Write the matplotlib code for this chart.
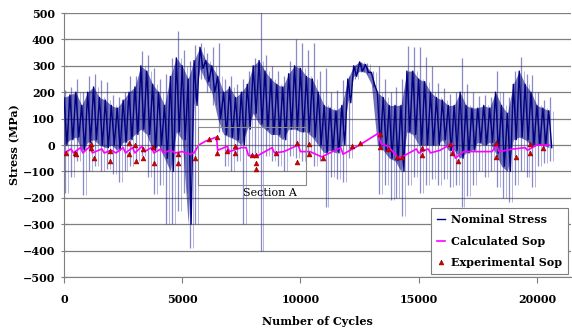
import numpy as np
import matplotlib.pyplot as plt
from matplotlib.patches import Rectangle

# ---- Nominal stress in 250-cycle bins ----
cycles = np.arange(0, 20501, 250)
peak_hi = [210, 220, 250, 200, 260, 270, 245, 240, 190, 180, 200, 260, 260, 355, 340, 290,
           250, 270, 330, 430, 360, 320, 380, 385, 350, 370, 385, 250, 260, 230, 250, 280,
           330, 510, 340, 300, 280, 260, 320, 400, 385, 360, 385, 280, 290, 200, 210, 245,
           260, 300, 315, 310, 280, 300, 250, 200, 220, 250, 375, 370, 370, 335, 300, 235,
           215, 195, 200, 330, 230, 200, 185, 190, 180, 280, 200, 180, 280, 335, 270, 265,
           200, 170, 180]
peak_lo = [-180, -120, -60, -190, -100, -80, -100, -90, -110, -140, -100, -80, -60, -40, -120, -185,
           -150, -300, -300, -250, -180, -390, -300, 250, 200, 150, 50, -80, -100, -60, -300, -40,
           -30, -400, -40, -60, -80, -100, -40, -50, -60, -40, -80, -60, -235, -120, -130, -140,
           -50, 250, 275, 270, 220, -185, -150, -210, -200, -270, -150, -120, -180, -150, -130, -150,
           -130, -160, -150, -235, -195, -150, -100, -120, -100, -160, -200, -215, -150, -100, -120, -160,
           -80, -70, -60]
core_hi = [180, 190, 200, 150, 200, 220, 180, 170, 150, 140, 170, 200, 220, 300, 280, 230,
           200, 150, 260, 330, 300, 250, 320, 370, 320, 300, 260, 200, 220, 180, 200, 230,
           300, 320, 280, 250, 230, 220, 270, 300, 290, 260, 250, 200, 150, 140, 130, 150,
           250, 300, 315, 305, 275, 200, 180, 150, 150, 150, 280, 280, 250, 240, 200, 180,
           170, 150, 150, 200, 150, 140, 140, 150, 140, 200, 150, 120, 230, 280, 230, 200,
           150, 140, 130]
core_lo = [0, 20, 30, -20, 10, 20, 0, -10, 0, -20, 10, 20, 40, 60, 40, -20,
           0, -50, -100, 50, 20, -300, 150, 290, 240, 200, 100, 40, 30, 20, 0, 60,
           120, 80, 60, 40, 40, 20, 60, 60, 50, 50, 30, 0, -30, -20, -30, 0,
           160, 260, 280, 275, 230, 0, -20, -50, -60, -100, 50, 40, 0, 0, 0, 0,
           20, -20, -20, -50, -30, -20, 10, 0, 10, -30, -80, -100, 20, 30, 20, 0,
           0, 0, -10]

# ---- Calculated Sop (magenta line) ----
sop_cyc = [0, 300, 400, 700, 800, 1100, 1200, 1600, 1700, 2000, 2200, 2500, 2600, 2900, 3000,
           3300, 3400, 3700, 3800, 4100, 4200, 4500, 4700, 5000, 5300, 5500, 5700, 6000, 6450,
           6500, 6900, 7000, 7500, 7700, 7800, 8200, 8300, 8800, 8900, 9300, 9900, 10000, 10400,
           10900, 11700, 11800, 12500, 13300, 13400, 13700, 14100, 14300, 14900, 15000, 15400,
           15500, 15900, 16400, 16550, 16900, 17500, 18100, 18300, 18400, 19000, 19500, 19600,
           20000, 20500]
sop_val = [-30, -15, -30, -10, -30, -5, -30, -15, -30, -20, -30, -10, -30, -10, -30,
           -5, -25, -10, -30, -15, -30, -20, -30, -25, -35, -30, 0, 15, 30,
           -20, -5, -25, -10, -10, -40, -40, -35, -10, -30, -25, 0, -25, -25,
           -45, -10, -35, 0, 45, 5, -5, -45, -45, -15, -30, -15,
           -30, -20, 5, -50, -25, -25, -25, 0, -25, -15, -10, -20,
           0, 0]

# ---- Experimental Sop (red triangles) ----
exp_cyc = [100, 480, 520, 1130, 1140, 1250, 1945, 1945, 2760, 2760, 3015, 3030, 3325, 3355,
           3780, 3805, 4835, 4835, 5540, 6120, 6450, 6460, 6900, 7230, 7250, 7960, 8110, 8110,
           8110, 8950, 9850, 9860, 10350, 10380, 10960, 12170, 12520, 13360, 13360, 13720, 14070,
           14280, 15120, 15120, 16320, 16390, 16645, 18270, 18270, 19110, 19700, 19700, 20270]
exp_val = [-31, -29, -34, 4, -13, -50, -24, -62, 6, -35, 0, -62, -16, -50,
           -6, -67, -35, -68, -48, 24, 31, -31, -24, -4, -31, -36, -38, -69,
           -91, -30, 6, -65, 4, -34, -50, -2, 6, 42, -6, -15, -44,
           -44, -13, -38, 4, -32, -62, 6, -44, -44, 4, -29, -13]

plt.rcParams['font.family'] = 'DejaVu Serif'
plt.rcParams['font.weight'] = 'bold'
plt.rcParams['font.size'] = 8

fig = plt.figure(figsize=(5.72, 3.31), dpi=100)
ax = fig.add_axes([64 / 572, 1 - 277 / 331, 507 / 572, 264 / 331])

navy = '#000080'
# light spikes, then the dense dark core of the signal
ax.vlines(cycles + 60, peak_lo, peak_hi, color='#2a2aa0', alpha=0.55, lw=0.9, zorder=2)
ax.vlines(cycles + 185, peak_lo, core_hi, color='#2a2aa0', alpha=0.35, lw=0.7, zorder=2)
ax.fill_between(cycles, core_lo, core_hi, color=navy, alpha=0.55, lw=0, zorder=3)
zz_x = np.column_stack([cycles, cycles + 125]).ravel()
zz_y = np.column_stack([core_hi, core_lo]).ravel()
ax.plot(zz_x, zz_y, color=navy, lw=1.0, zorder=3, label='Nominal Stress')

ax.plot(sop_cyc, sop_val, color='#ff00ff', lw=1.2, zorder=4, label='Calculated Sop')
ax.plot(exp_cyc, exp_val, linestyle='none', marker='^', ms=3.5, color='#d00000',
        mec='#900000', mew=0.4, zorder=5, label='Experimental Sop')

# Section A box
ax.add_patch(Rectangle((5650, -150), 4600, 220, fill=False, ec='#8a8a8a', lw=0.8, zorder=6))
ax.text(8700, -183, 'Section A', ha='center', va='center', fontsize=8,
        fontweight='normal', zorder=7)

ax.set_xlim(0, 21440)
ax.set_ylim(-500, 500)
ax.set_xticks(range(0, 20001, 5000))
ax.set_yticks(range(-500, 501, 100))
ax.yaxis.grid(True, color='#7f7f7f', lw=0.9)
ax.set_axisbelow(True)
for s in ['top', 'right']:
    ax.spines[s].set_visible(False)
for s in ['left', 'bottom']:
    ax.spines[s].set_color('#7f7f7f')
ax.tick_params(axis='y', direction='inout', length=5, color='#7f7f7f', pad=4)
ax.tick_params(axis='x', direction='out', length=4, color='#7f7f7f', pad=8)

ax.set_xlabel('Number of Cycles', fontweight='bold', labelpad=8)
ax.set_ylabel('Stress (MPa)', fontweight='bold', labelpad=2)

leg = ax.legend(loc='lower right', handlelength=0.8, handletextpad=0.5, borderaxespad=0.3,
                fancybox=False, framealpha=1, edgecolor='#7f7f7f', labelspacing=0.95,
                borderpad=0.5, prop={'weight': 'bold', 'size': 8})
leg.get_frame().set_linewidth(0.8)

fig.savefig('out.png', dpi=100)
